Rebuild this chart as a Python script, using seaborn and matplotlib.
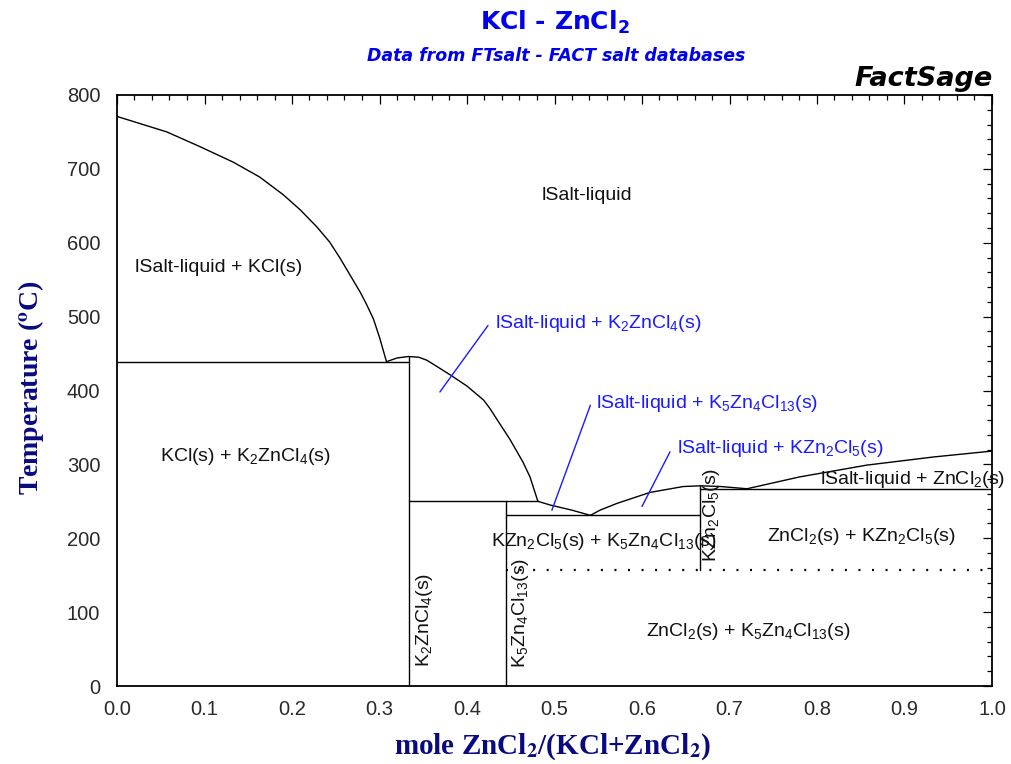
import matplotlib
matplotlib.use("Agg")
import matplotlib.pyplot as plt
from matplotlib.ticker import MultipleLocator, FormatStrFormatter
import pandas as pd
import seaborn as sns

# ---- Phase boundaries: mole fraction ZnCl2 vs temperature (deg C) ----
kcl_liq_x = [0.0, 0.057, 0.095, 0.133, 0.163, 0.19, 0.209, 0.228, 0.243, 0.255,
             0.266, 0.278, 0.285, 0.293, 0.30, 0.308]
kcl_liq_t = [771, 750, 730, 709, 689, 665, 645, 622, 601, 579,
             557, 533, 517, 497, 472, 439]

k2zncl4_liq_x = [0.308, 0.32, 0.333, 0.345, 0.354, 0.365, 0.381, 0.40, 0.419,
                 0.426, 0.438, 0.449, 0.464, 0.472, 0.481]
k2zncl4_liq_t = [439, 444, 446, 445, 441, 433, 421, 406, 387,
                 376, 354, 334, 303, 283, 250]

k5zn4cl13_liq_x = [0.481, 0.495, 0.52, 0.541]
k5zn4cl13_liq_t = [250, 245, 238, 231]

kzn2cl5_liq_x = [0.541, 0.552, 0.571, 0.609, 0.647, 0.667, 0.69, 0.72]
kzn2cl5_liq_t = [231, 238, 247, 262, 270, 271, 270, 267]

zncl2_liq_x = [0.72, 0.78, 0.857, 0.933, 1.0]
zncl2_liq_t = [267, 283, 299, 310, 318]

# Invariant reactions (horizontal lines): temperature and composition span
invariant_t = [439, 250, 231, 267]
invariant_x0 = [0.0, 1 / 3, 4 / 9, 2 / 3]
invariant_x1 = [1 / 3, 0.481, 2 / 3, 1.0]

# Stoichiometric compounds (vertical lines): composition and temperature span
compound_x = [1 / 3, 4 / 9, 2 / 3]
compound_t0 = [0, 0, 157]
compound_t1 = [446, 250, 271]

# Solid-state transition of KZn2Cl5 (dotted)
transition_t = 157
transition_x = [4 / 9, 1.0]

# ---- Field labels ----
field_text = [
    "lSalt-liquid",
    "lSalt-liquid + KCl(s)",
    r"KCl(s) + K$_2$ZnCl$_4$(s)",
    r"lSalt-liquid + ZnCl$_2$(s)",
    r"ZnCl$_2$(s) + KZn$_2$Cl$_5$(s)",
    r"KZn$_2$Cl$_5$(s) + K$_5$Zn$_4$Cl$_{13}$(s)",
    r"ZnCl$_2$(s) + K$_5$Zn$_4$Cl$_{13}$(s)",
    r"K$_2$ZnCl$_4$(s)",
    r"K$_5$Zn$_4$Cl$_{13}$(s)",
    r"KZn$_2$Cl$_5$(s)",
]
field_x = [0.537, 0.0206, 0.147, 0.803, 0.851, 0.428, 0.722, 0.352, 0.461, 0.68]
field_t = [664, 567, 310, 279, 203, 195, 74, 89, 99, 231]
field_ha = ["center", "left", "center", "left", "center", "left", "center",
            "center", "center", "center"]
field_rot = [0, 0, 0, 0, 0, 0, 0, 90, 90, 90]

# Labels with leader lines pointing into narrow two-phase fields
pointer_text = [
    r"lSalt-liquid + K$_2$ZnCl$_4$(s)",
    r"lSalt-liquid + K$_5$Zn$_4$Cl$_{13}$(s)",
    r"lSalt-liquid + KZn$_2$Cl$_5$(s)",
]
pointer_label_x = [0.432, 0.548, 0.640]
pointer_label_t = [491, 383, 322]
pointer_start_x = [0.424, 0.541, 0.632]
pointer_start_t = [488, 380, 317]
pointer_end_x = [0.369, 0.497, 0.600]
pointer_end_t = [398, 238, 243]

# ---- Long-form table of boundary segments ----
segments = []
for name, xs, ts in [
    ("KCl liquidus", kcl_liq_x, kcl_liq_t),
    ("K2ZnCl4 liquidus", k2zncl4_liq_x, k2zncl4_liq_t),
    ("K5Zn4Cl13 liquidus", k5zn4cl13_liq_x, k5zn4cl13_liq_t),
    ("KZn2Cl5 liquidus", kzn2cl5_liq_x, kzn2cl5_liq_t),
    ("ZnCl2 liquidus", zncl2_liq_x, zncl2_liq_t),
]:
    for i, (x, t) in enumerate(zip(xs, ts)):
        segments.append({"segment": name, "order": i, "x": x, "T": t})
for k, (t, x0, x1) in enumerate(zip(invariant_t, invariant_x0, invariant_x1)):
    segments.append({"segment": f"invariant {k}", "order": 0, "x": x0, "T": t})
    segments.append({"segment": f"invariant {k}", "order": 1, "x": x1, "T": t})
for k, (x, t0, t1) in enumerate(zip(compound_x, compound_t0, compound_t1)):
    segments.append({"segment": f"compound {k}", "order": 0, "x": x, "T": t0})
    segments.append({"segment": f"compound {k}", "order": 1, "x": x, "T": t1})
boundaries = pd.DataFrame(segments)

transition = pd.DataFrame({"x": transition_x, "T": [transition_t] * len(transition_x)})

# ---- Style ----
sns.set_theme(style="white")
plt.rcParams["font.family"] = ["Liberation Sans", "DejaVu Sans"]
plt.rcParams["mathtext.fontset"] = "custom"
plt.rcParams["mathtext.rm"] = "Liberation Sans"
plt.rcParams["mathtext.it"] = "Liberation Sans:italic"
plt.rcParams["mathtext.bf"] = "Liberation Sans:bold"

fig = plt.figure(figsize=(10.12, 7.64), dpi=100)
ax = fig.add_axes([117 / 1012, 78 / 764, 875 / 1012, 591 / 764])

sns.lineplot(data=boundaries, x="x", y="T", units="segment", estimator=None,
             sort=False, color="black", linewidth=1.0, ax=ax, legend=False)
sns.lineplot(data=transition, x="x", y="T", estimator=None, sort=False,
             color="black", linewidth=1.6, ax=ax, legend=False,
             dashes=False, linestyle=(0, (0.9, 5.2)))

ax.set_xlim(0, 1)
ax.set_ylim(0, 800)
ax.xaxis.set_major_locator(MultipleLocator(0.1))
ax.xaxis.set_minor_locator(MultipleLocator(0.02))
ax.yaxis.set_major_locator(MultipleLocator(100))
ax.yaxis.set_minor_locator(MultipleLocator(20))
ax.xaxis.set_major_formatter(FormatStrFormatter("%.1f"))
ax.tick_params(which="both", direction="in", top=True, right=True,
               color="black", width=0.9, labelsize=14.5, labelcolor="#2a2a2a")
ax.tick_params(which="major", length=6.5)
ax.tick_params(which="minor", length=3.5)
ax.tick_params(axis="x", which="major", pad=10)
ax.tick_params(axis="y", which="major", pad=12)
for sp in ax.spines.values():
    sp.set_color("black")
    sp.set_linewidth(1.3)
ax.set_xlabel("")
ax.set_ylabel("")

# Field labels
for txt, x, t, ha, rot in zip(field_text, field_x, field_t, field_ha, field_rot):
    ax.text(x, t, txt, ha=ha, va="center", rotation=rot, fontsize=14,
            color="#111111")

# Leader-line labels
for txt, lx, lt, sx, st, ex, et in zip(pointer_text, pointer_label_x, pointer_label_t,
                                       pointer_start_x, pointer_start_t,
                                       pointer_end_x, pointer_end_t):
    ax.text(lx, lt, txt, ha="left", va="center", fontsize=14, color="#1a1aff")
    ax.annotate("", xy=(ex, et), xytext=(sx, st),
                arrowprops=dict(arrowstyle="-", color="#1a1aff", lw=1.0,
                                shrinkA=0, shrinkB=0))

# Titles and axis labels
fig.text(555 / 1012, 1 - 22 / 764, r"KCl - ZnCl$_\mathbf{2}$", ha="center",
         va="center", fontsize=18, fontweight="bold", color="#0000ee",
         family="DejaVu Sans", math_fontfamily="dejavusans")
fig.text(556 / 1012, 1 - 56 / 764, "Data from FTsalt - FACT salt databases",
         ha="center", va="center", fontsize=12.5, fontweight="bold",
         fontstyle="italic", color="#0000ee", family="DejaVu Sans")
fig.text(993 / 1012, 1 - 86 / 764, "FactSage", ha="right", va="baseline",
         fontsize=19.5, fontweight="bold", fontstyle="italic", color="black",
         family="DejaVu Sans")
fig.text(553 / 1012, 1 - 747 / 764, r"mole ZnCl$_{\mathbf{2}}$/(KCl+ZnCl$_{\mathbf{2}}$)",
         ha="center", va="center", fontsize=21, fontweight="bold",
         color="#0a0a80", family="Liberation Serif", math_fontfamily="stix")
fig.text(31 / 1012, 1 - 388 / 764, r"Temperature ($^{\mathbf{o}}$C)", ha="center",
         va="center", rotation=90, fontsize=20, fontweight="bold",
         color="#0a0a80", family="Liberation Serif", math_fontfamily="stix")

fig.savefig("out.png", dpi=100, facecolor="white")
